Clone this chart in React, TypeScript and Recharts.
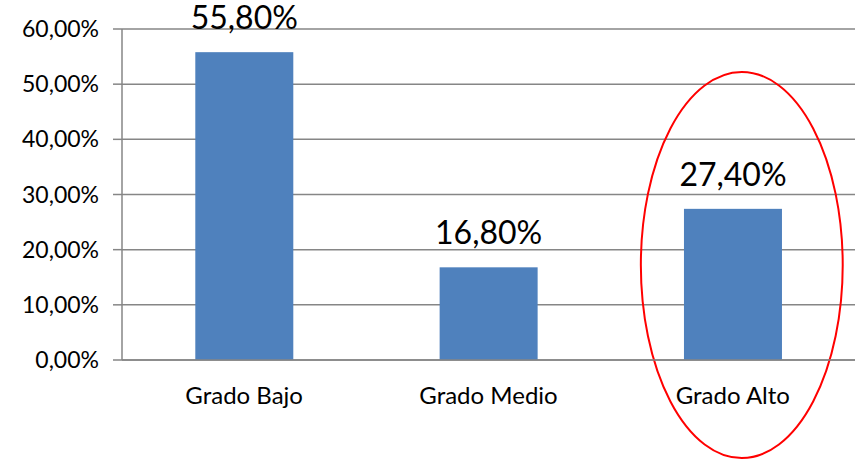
import React from "react";
import {
  BarChart,
  Bar,
  XAxis,
  YAxis,
  CartesianGrid,
  LabelList,
} from "recharts";

const categories = ["Grado Bajo", "Grado Medio", "Grado Alto"];
const values = [55.8, 16.8, 27.4];
const highlighted = [false, false, true];
const yTicks = [0, 10, 20, 30, 40, 50, 60];
const boundaryTicks = [0, 1, 2, 3];

const data = categories.map((name, i) => ({
  name,
  value: values[i],
  mark: highlighted[i],
}));

const FONT = "Lato, 'Open Sans', sans-serif";
const GRAY = "#868686";

function fmtPct(v: number) {
  return `${v.toFixed(2).replace(".", ",")}%`;
}

// bar plus the red circle drawn around the highlighted one
function BarShape(props: any) {
  const { x, y, width, height, payload } = props;
  const cx = x + width / 2;
  const bottom = y + height;
  return (
    <g>
      <rect x={x} y={y} width={width} height={height} fill="#4F81BD" />
      {payload && payload.mark && (
        <ellipse
          cx={cx + width * 0.09}
          cy={bottom - width * 0.97}
          rx={width * 1.03}
          ry={width * 1.97}
          fill="none"
          stroke="#FF0000"
          strokeWidth={2}
        />
      )}
    </g>
  );
}

export default function App() {
  return (
    <div style={{ position: "absolute", left: 0, top: 0, background: "#fff" }}>
      <BarChart
        width={856}
        height={459}
        data={data}
        margin={{ top: 29, right: 1, bottom: 38, left: 0 }}
        barCategoryGap="30%"
        style={{ fontFamily: FONT }}
      >
        <CartesianGrid vertical={false} stroke={GRAY} strokeWidth={1.5} />
        <XAxis
          xAxisId="grid"
          type="number"
          domain={[0, 3]}
          ticks={boundaryTicks}
          tick={false}
          axisLine={false}
          tickLine={{ stroke: GRAY, strokeWidth: 1.5 }}
          tickSize={8}
          height={1}
        />
        <XAxis
          xAxisId="cat"
          dataKey="name"
          axisLine={{ stroke: GRAY, strokeWidth: 1.5 }}
          tickLine={false}
          tickSize={0}
          tickMargin={27}
          height={60}
          tick={{ fill: "#000", fontSize: 24, fontFamily: FONT }}
        />
        <YAxis
          domain={[0, 60]}
          ticks={yTicks}
          width={122}
          tickFormatter={fmtPct}
          axisLine={{ stroke: GRAY, strokeWidth: 1.5 }}
          tickLine={{ stroke: GRAY, strokeWidth: 1.5 }}
          tickSize={9}
          tickMargin={14}
          tick={{ fill: "#000", fontSize: 23, fontFamily: FONT }}
        />
        <Bar
          xAxisId="cat"
          dataKey="value"
          shape={<BarShape />}
          isAnimationActive={false}
        >
          <LabelList
            dataKey="value"
            position="top"
            offset={23}
            formatter={(v: any) => fmtPct(Number(v))}
            style={{ fill: "#000", fontSize: 32, fontFamily: FONT }}
          />
        </Bar>
      </BarChart>
    </div>
  );
}
